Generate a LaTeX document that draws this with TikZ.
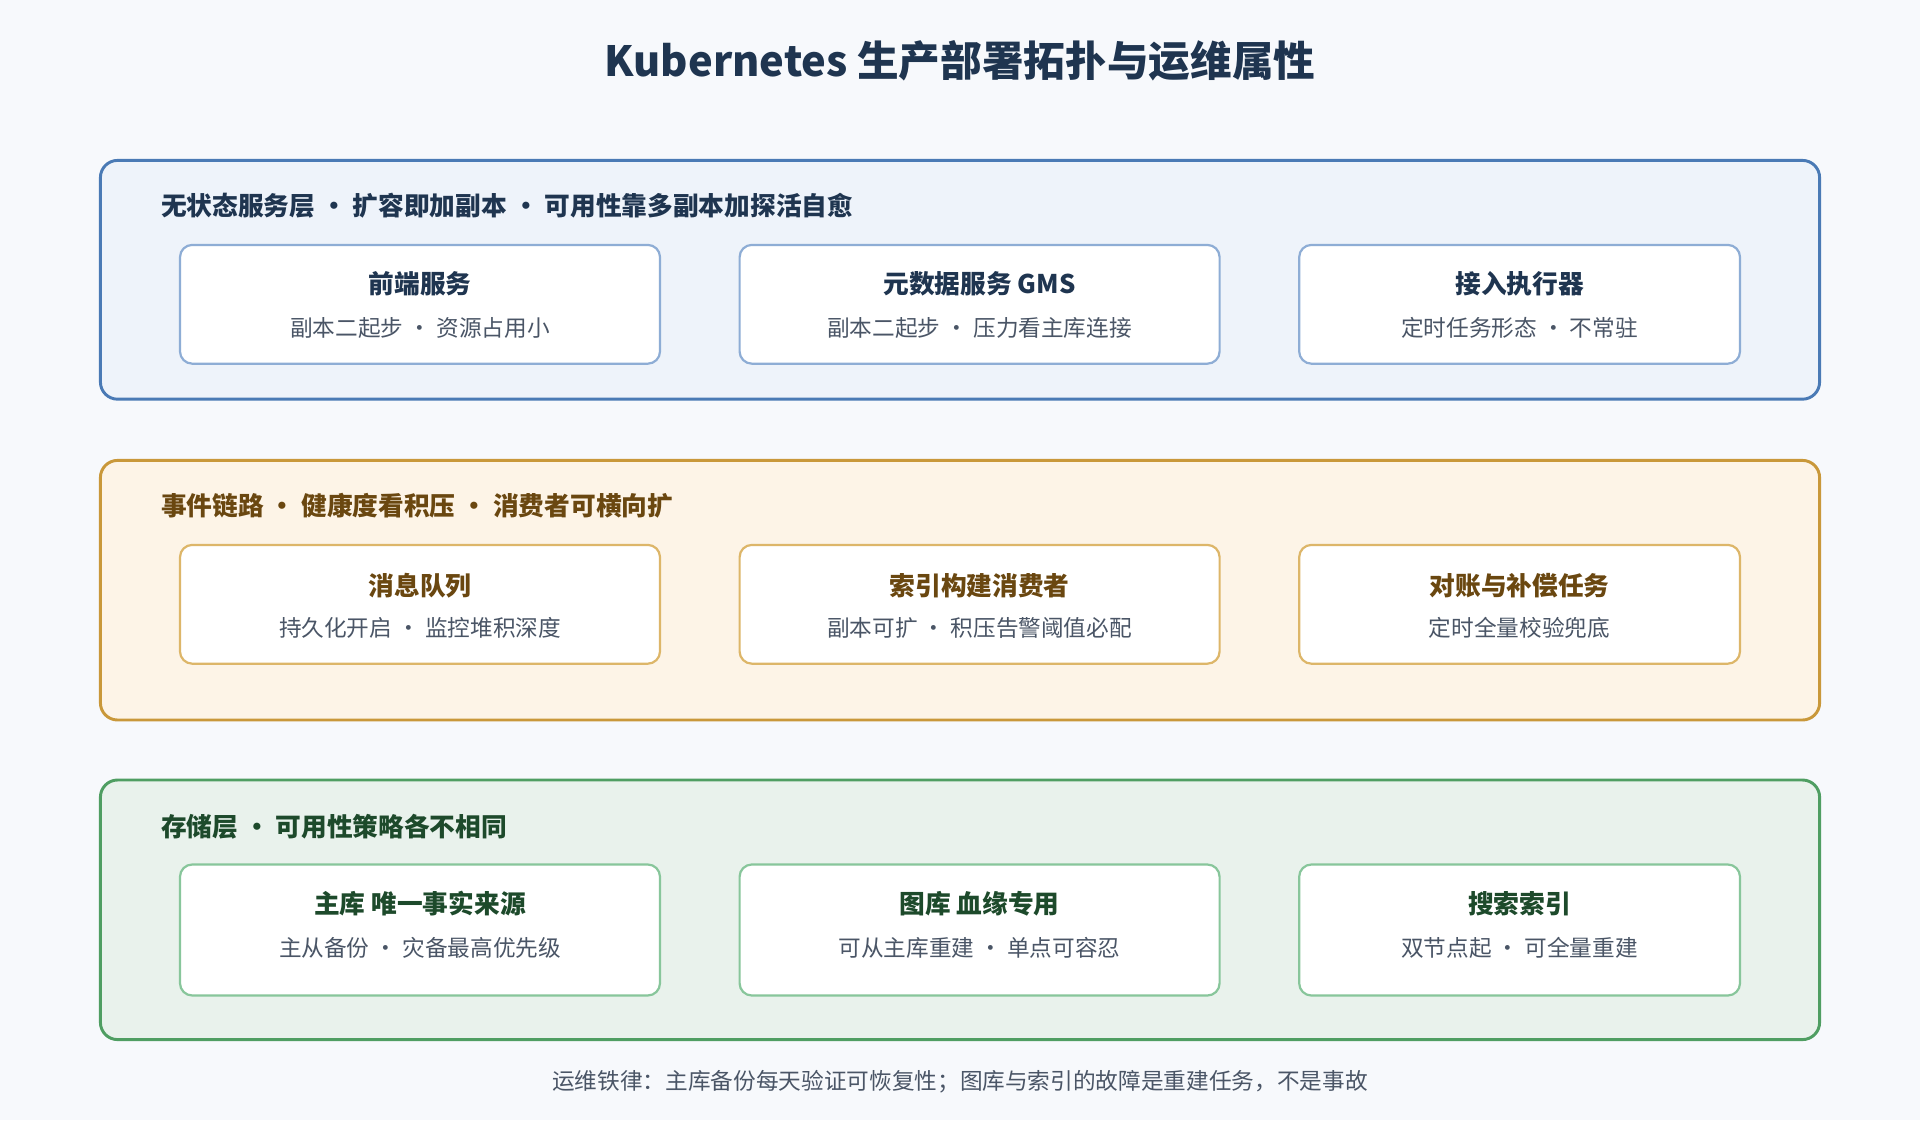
\documentclass[tikz,border=0pt]{standalone}
\usepackage{fontspec}
\setmainfont{Noto Sans CJK SC}
\usetikzlibrary{positioning}
\definecolor{bgc}{HTML}{F7F9FC}
\definecolor{ink}{HTML}{1F3550}
\definecolor{blueL}{HTML}{4A7AB5}\definecolor{blueF}{HTML}{EEF3FA}\definecolor{blueB}{HTML}{8EADD5}
\definecolor{oraL}{HTML}{C9983A}\definecolor{oraF}{HTML}{FDF4E7}\definecolor{oraB}{HTML}{DDB669}\definecolor{oraT}{HTML}{6A4710}
\definecolor{grnL}{HTML}{4F9E62}\definecolor{grnF}{HTML}{E9F2EC}\definecolor{grnB}{HTML}{88C69B}\definecolor{grnT}{HTML}{1D4A2B}
\definecolor{subc}{HTML}{4A5566}
\tikzset{
  layer/.style={draw=#1, line width=2.4pt, rounded corners=14pt},
  card/.style={draw=#1, line width=1.8pt, fill=white, rounded corners=10pt},
  head/.style={anchor=west, font=\bfseries\fontsize{21}{24}\selectfont},
  ttl/.style={font=\bfseries\fontsize{21}{24}\selectfont},
  sub/.style={text=subc, font=\fontsize{18.5}{22}\selectfont}
}
\begin{document}
\begin{tikzpicture}[x=1pt,y=-1pt]
\fill[bgc] (0,0) rectangle (1568,915);
\useasboundingbox (0,0) rectangle (1568,915);
\node[ink, font=\bfseries\fontsize{34}{40}\selectfont] (title) at (784,50) {Kubernetes 生产部署拓扑与运维属性};

% stateless layer
\draw[layer=blueL, fill=blueF] (82,131) rectangle (1486,326);
\node[head, text=ink] (h1) at (128,168) {无状态服务层 • 扩容即加副本 • 可用性靠多副本加探活自愈};
\draw[card=blueB] (147,200) rectangle (539,297);
\draw[card=blueB] (604,200) rectangle (996,297);
\draw[card=blueB] (1061,200) rectangle (1421,297);
\node[ttl, text=ink] (fe) at (343,232) {前端服务};
\node[sub] (fes) at (343,268) {副本二起步 · 资源占用小};
\node[ttl, text=ink] (gms) at (800,232) {元数据服务 GMS};
\node[sub] (gmss) at (800,268) {副本二起步 · 压力看主库连接};
\node[ttl, text=ink] (ing) at (1241,232) {接入执行器};
\node[sub] (ings) at (1241,268) {定时任务形态 · 不常驻};

% event layer
\draw[layer=oraL, fill=oraF] (82,376) rectangle (1486,588);
\node[head, text=oraT] (h2) at (128,413) {事件链路 • 健康度看积压 • 消费者可横向扩};
\draw[card=oraB] (147,445) rectangle (539,542);
\draw[card=oraB] (604,445) rectangle (996,542);
\draw[card=oraB] (1061,445) rectangle (1421,542);
\node[ttl, text=oraT] (mq) at (343,478) {消息队列};
\node[sub] (mqs) at (343,513) {持久化开启 · 监控堆积深度};
\node[ttl, text=oraT] (idx) at (800,478) {索引构建消费者};
\node[sub] (idxs) at (800,513) {副本可扩 · 积压告警阈值必配};
\node[ttl, text=oraT] (rec) at (1241,478) {对账与补偿任务};
\node[sub] (recs) at (1241,513) {定时全量校验兜底};

% storage layer
\draw[layer=grnL, fill=grnF] (82,637) rectangle (1486,849);
\node[head, text=grnT] (h3) at (128,675) {存储层 • 可用性策略各不相同};
\draw[card=grnB] (147,706) rectangle (539,813);
\draw[card=grnB] (604,706) rectangle (996,813);
\draw[card=grnB] (1061,706) rectangle (1421,813);
\node[ttl, text=grnT] (db) at (343,738) {主库 唯一事实来源};
\node[sub] (dbs) at (343,774) {主从备份 · 灾备最高优先级};
\node[ttl, text=grnT] (gdb) at (800,738) {图库 血缘专用};
\node[sub] (gdbs) at (800,774) {可从主库重建 · 单点可容忍};
\node[ttl, text=grnT] (es) at (1241,738) {搜索索引};
\node[sub] (ess) at (1241,774) {双节点起 · 可全量重建};

\node[text=subc, font=\fontsize{18.5}{22}\selectfont] (foot) at (784,883) {运维铁律：主库备份每天验证可恢复性；图库与索引的故障是重建任务，不是事故};
\end{tikzpicture}
\end{document}
